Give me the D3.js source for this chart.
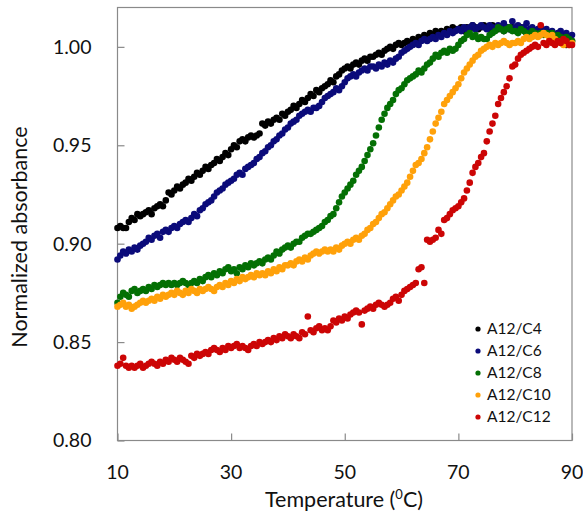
<!DOCTYPE html>
<html>
<head>
<meta charset="utf-8">
<script src="https://cdn.jsdelivr.net/npm/d3@7"></script>
<style>
  html, body { margin: 0; padding: 0; background: #fff; }
  svg { display: block; font-family: Lato, "Open Sans", sans-serif; }
</style>
</head>
<body>
<div id="chart"></div>
<script>
// temperature grid (°C), one reading every 0.5 degree
const temps = [
  10, 10.5, 11, 11.5, 12, 12.5, 13, 13.5, 14, 14.5, 15, 15.5, 16, 16.5, 17, 17.5, 18, 18.5, 19, 19.5,
  20, 20.5, 21, 21.5, 22, 22.5, 23, 23.5, 24, 24.5, 25, 25.5, 26, 26.5, 27, 27.5, 28, 28.5, 29, 29.5,
  30, 30.5, 31, 31.5, 32, 32.5, 33, 33.5, 34, 34.5, 35, 35.5, 36, 36.5, 37, 37.5, 38, 38.5, 39, 39.5,
  40, 40.5, 41, 41.5, 42, 42.5, 43, 43.5, 44, 44.5, 45, 45.5, 46, 46.5, 47, 47.5, 48, 48.5, 49, 49.5,
  50, 50.5, 51, 51.5, 52, 52.5, 53, 53.5, 54, 54.5, 55, 55.5, 56, 56.5, 57, 57.5, 58, 58.5, 59, 59.5,
  60, 60.5, 61, 61.5, 62, 62.5, 63, 63.5, 64, 64.5, 65, 65.5, 66, 66.5, 67, 67.5, 68, 68.5, 69, 69.5,
  70, 70.5, 71, 71.5, 72, 72.5, 73, 73.5, 74, 74.5, 75, 75.5, 76, 76.5, 77, 77.5, 78, 78.5, 79, 79.5,
  80, 80.5, 81, 81.5, 82, 82.5, 83, 83.5, 84, 84.5, 85, 85.5, 86, 86.5, 87, 87.5, 88, 88.5, 89, 89.5,
  90
];

const c4 = [
  0.908, 0.909, 0.908, 0.908, 0.911, 0.913, 0.912, 0.915, 0.914, 0.915,
  0.916, 0.917, 0.915, 0.918, 0.919, 0.920, 0.919, 0.922, 0.926, 0.925,
  0.927, 0.929, 0.928, 0.930, 0.931, 0.933, 0.932, 0.934, 0.936, 0.935,
  0.937, 0.939, 0.938, 0.940, 0.941, 0.943, 0.942, 0.944, 0.946, 0.945,
  0.948, 0.950, 0.949, 0.952, 0.953, 0.952, 0.954, 0.955, 0.954, 0.955,
  0.956, 0.961, 0.960, 0.962, 0.961, 0.963, 0.964, 0.963, 0.966, 0.965,
  0.967, 0.968, 0.970, 0.969, 0.971, 0.973, 0.972, 0.974, 0.976, 0.975,
  0.978, 0.977, 0.979, 0.980, 0.981, 0.983, 0.982, 0.985, 0.986, 0.988,
  0.989, 0.990, 0.989, 0.991, 0.992, 0.991, 0.993, 0.994, 0.993, 0.995,
  0.995, 0.996, 0.997, 0.996, 0.998, 0.999, 1.000, 0.999, 1.001, 1.002,
  1.001, 1.002, 1.003, 1.002, 1.004, 1.003, 1.005, 1.004, 1.006, 1.005,
  1.007, 1.006, 1.008, 1.007, 1.008, 1.007, 1.009, 1.008, 1.010, 1.009,
  1.009, 1.010, 1.008, 1.010, 1.009, 1.011, 1.010, 1.009, 1.010, 1.011,
  1.010, 1.009, 1.011, 1.010, 1.009, 1.010, 1.008, 1.010, 1.009, 1.010,
  1.009, 1.008, 1.010, 1.009, 1.007, 1.008, 1.009, 1.007, 1.008, 1.006,
  1.007, 1.008, 1.006, 1.005, 1.006, 1.004, 1.005, 1.003, 1.001, 1.002,
  1.003
];

const c6 = [
  0.892, 0.894, 0.896, 0.895, 0.897, 0.896, 0.898, 0.897, 0.899, 0.900,
  0.901, 0.903, 0.902, 0.904, 0.905, 0.903, 0.906, 0.907, 0.906, 0.908,
  0.909, 0.908, 0.910, 0.911, 0.912, 0.911, 0.913, 0.915, 0.914, 0.917,
  0.918, 0.920, 0.921, 0.922, 0.924, 0.926, 0.927, 0.928, 0.930, 0.931,
  0.932, 0.933, 0.935, 0.936, 0.935, 0.938, 0.939, 0.940, 0.941, 0.943,
  0.944, 0.946, 0.947, 0.949, 0.950, 0.952, 0.953, 0.955, 0.956, 0.958,
  0.959, 0.961, 0.962, 0.963, 0.965, 0.966, 0.967, 0.968, 0.967, 0.969,
  0.969, 0.970, 0.972, 0.974, 0.975, 0.976, 0.977, 0.979, 0.978, 0.980,
  0.982, 0.984, 0.985, 0.986, 0.985, 0.987, 0.988, 0.989, 0.988, 0.990,
  0.990, 0.989, 0.991, 0.990, 0.992, 0.991, 0.993, 0.992, 0.994, 0.995,
  0.997, 0.998, 0.999, 1.000, 1.001, 1.002, 1.001, 1.003, 1.004, 1.003,
  1.004, 1.005, 1.004, 1.006, 1.005, 1.007, 1.006, 1.008, 1.007, 1.008,
  1.009, 1.008, 1.010, 1.009, 1.010, 1.011, 1.009, 1.010, 1.011, 1.010,
  1.009, 1.011, 1.010, 1.009, 1.011, 1.010, 1.012, 1.010, 1.009, 1.013,
  1.010, 1.011, 1.009, 1.010, 1.012, 1.009, 1.010, 1.008, 1.009, 1.010,
  1.008, 1.009, 1.007, 1.008, 1.006, 1.007, 1.008, 1.006, 1.007, 1.005,
  1.006
];

const c8 = [
  0.870, 0.873, 0.875, 0.874, 0.873, 0.876, 0.877, 0.875, 0.876, 0.877,
  0.876, 0.878, 0.877, 0.879, 0.878, 0.879, 0.880, 0.879, 0.880, 0.879,
  0.880, 0.879, 0.880, 0.881, 0.880, 0.879, 0.880, 0.881, 0.880, 0.882,
  0.881, 0.883, 0.884, 0.883, 0.885, 0.884, 0.886, 0.885, 0.887, 0.888,
  0.886, 0.887, 0.885, 0.888, 0.887, 0.889, 0.888, 0.890, 0.889, 0.890,
  0.891, 0.890, 0.892, 0.893, 0.892, 0.894, 0.896, 0.895, 0.897, 0.898,
  0.899, 0.898, 0.900, 0.901, 0.901, 0.903, 0.904, 0.905, 0.905, 0.906,
  0.907, 0.908, 0.909, 0.911, 0.912, 0.914, 0.915, 0.918, 0.921, 0.924,
  0.926, 0.928, 0.930, 0.932, 0.935, 0.937, 0.939, 0.942, 0.945, 0.948,
  0.951, 0.955, 0.959, 0.963, 0.966, 0.969, 0.971, 0.973, 0.976, 0.978,
  0.979, 0.981, 0.983, 0.984, 0.985, 0.986, 0.988, 0.987, 0.989, 0.991,
  0.992, 0.994, 0.996, 0.995, 0.997, 0.998, 0.997, 0.999, 0.998, 0.999,
  1.001, 1.003, 1.004, 1.006, 1.007, 1.005, 1.006, 1.004, 1.005, 1.004,
  1.004, 1.006, 1.007, 1.008, 1.010, 1.009, 1.008, 1.009, 1.010, 1.008,
  1.008, 1.007, 1.009, 1.008, 1.007, 1.006, 1.008, 1.007, 1.006, 1.007,
  1.006, 1.007, 1.006, 1.007, 1.005, 1.006, 1.005, 1.004, 1.005, 1.004,
  1.003
];

const c10 = [
  0.868, 0.869, 0.870, 0.868, 0.869, 0.867, 0.868, 0.869, 0.870, 0.871,
  0.870, 0.871, 0.872, 0.871, 0.873, 0.872, 0.874, 0.873, 0.874, 0.875,
  0.874, 0.876, 0.875, 0.874, 0.876, 0.875, 0.877, 0.876, 0.875, 0.877,
  0.876, 0.877, 0.878, 0.877, 0.876, 0.878, 0.879, 0.878, 0.880, 0.879,
  0.881, 0.880, 0.882, 0.881, 0.883, 0.882, 0.883, 0.884, 0.883, 0.885,
  0.884, 0.885, 0.884, 0.886, 0.885, 0.887, 0.886, 0.888, 0.887, 0.889,
  0.889, 0.890, 0.889, 0.891, 0.892, 0.891, 0.893, 0.892, 0.894, 0.895,
  0.896, 0.895, 0.896, 0.897, 0.896, 0.897, 0.896, 0.898, 0.897, 0.899,
  0.900, 0.901, 0.900, 0.902, 0.903, 0.902, 0.904, 0.905, 0.907, 0.908,
  0.910, 0.911, 0.913, 0.915, 0.916, 0.918, 0.920, 0.922, 0.924, 0.925,
  0.927, 0.929, 0.931, 0.934, 0.937, 0.940, 0.941, 0.943, 0.946, 0.949,
  0.953, 0.957, 0.961, 0.964, 0.967, 0.971, 0.973, 0.975, 0.977, 0.979,
  0.981, 0.984, 0.987, 0.989, 0.991, 0.993, 0.995, 0.996, 0.998, 0.999,
  1.000, 1.001, 1.000, 1.002, 1.001, 1.002, 1.003, 1.002, 1.001, 1.002,
  1.002, 1.003, 1.002, 1.004, 1.005, 1.004, 1.005, 1.006, 1.005, 1.006,
  1.007, 1.006, 1.005, 1.006, 1.004, 1.003, 1.002, 1.001, 1.002, 1.001,
  1.002
];

const c12 = [
  0.838, 0.839, 0.842, 0.838, 0.837, 0.838, 0.837, 0.838, 0.839, 0.837,
  0.838, 0.839, 0.840, 0.839, 0.838, 0.840, 0.839, 0.841, 0.840, 0.842,
  0.841, 0.840, 0.842, 0.841, 0.840, 0.839, 0.843, 0.842, 0.844, 0.843,
  0.844, 0.845, 0.844, 0.846, 0.847, 0.846, 0.845, 0.847, 0.846, 0.848,
  0.847, 0.848, 0.849, 0.847, 0.848, 0.847, 0.846, 0.848, 0.849, 0.848,
  0.850, 0.849, 0.850, 0.851, 0.850, 0.852, 0.851, 0.853, 0.852, 0.854,
  0.853, 0.852, 0.854, 0.853, 0.852, 0.855, 0.854, 0.863, 0.856, 0.855,
  0.857, 0.858, 0.856, 0.857, 0.856, 0.858, 0.861, 0.860, 0.862, 0.861,
  0.863, 0.862, 0.864, 0.865, 0.866, 0.865, 0.859, 0.866, 0.867, 0.868,
  0.867, 0.869, 0.870, 0.869, 0.868, 0.869, 0.870, 0.872, 0.873, 0.871,
  0.874, 0.876, 0.877, 0.878, 0.879, 0.880, 0.887, 0.888, 0.880, 0.902,
  0.901, 0.902, 0.903, 0.907, 0.905, 0.912, 0.913, 0.915, 0.917, 0.918,
  0.919, 0.921, 0.923, 0.927, 0.931, 0.936, 0.939, 0.941, 0.944, 0.946,
  0.952, 0.957, 0.961, 0.965, 0.971, 0.974, 0.977, 0.980, 0.984, 0.990,
  0.991, 0.994, 0.996, 0.997, 0.998, 0.999, 1.000, 1.001, 1.000, 1.011,
  1.002, 1.001, 1.003, 1.002, 1.001, 1.003, 1.002, 1.004, 1.003, 1.001,
  1.001
];

const seriesNames = ["A12/C4", "A12/C6", "A12/C8", "A12/C10", "A12/C12"];
const seriesValues = [c4, c6, c8, c10, c12];
const seriesColors = ["#000000", "#0b0b7a", "#047004", "#ffa10a", "#cc0505"];

const xTicks = [10, 30, 50, 70, 90];
const yTicks = [0.80, 0.85, 0.90, 0.95, 1.00];

const width = 583, height = 515;
const margin = {top: 7.5, right: 11, bottom: 74.5, left: 117.5};

const x = d3.scaleLinear()
  .domain([10, 90])
  .range([margin.left, width - margin.right]);
const y = d3.scaleLinear()
  .domain([0.80, 1.02])
  .range([height - margin.bottom, margin.top]);

const svg = d3.select("#chart").append("svg")
  .attr("width", width)
  .attr("height", height)
  .attr("viewBox", [0, 0, width, height]);

// plot frame
svg.append("rect")
  .attr("x", x(10))
  .attr("y", y(1.02))
  .attr("width", x(90) - x(10))
  .attr("height", y(0.80) - y(1.02))
  .attr("fill", "none")
  .attr("stroke", "#8a8a8a")
  .attr("stroke-width", 1.2);

// axes with inside ticks
const xAxis = g => g
  .attr("transform", `translate(0,${y(0.80)})`)
  .call(d3.axisBottom(x).tickValues(xTicks).tickSizeInner(-7).tickSizeOuter(0))
  .call(g => g.select(".domain").remove())
  .call(g => g.selectAll(".tick line").attr("stroke", "#8a8a8a").attr("stroke-width", 1.2))
  .call(g => g.selectAll(".tick text").remove());

const yAxis = g => g
  .attr("transform", `translate(${x(10)},0)`)
  .call(d3.axisLeft(y).tickValues(yTicks).tickSizeInner(-7).tickSizeOuter(0))
  .call(g => g.select(".domain").remove())
  .call(g => g.selectAll(".tick line").attr("stroke", "#8a8a8a").attr("stroke-width", 1.2))
  .call(g => g.selectAll(".tick text").remove());

svg.append("g").call(xAxis);
svg.append("g").call(yAxis);

// tick labels
svg.append("g")
  .selectAll("text")
  .data(xTicks)
  .join("text")
  .attr("x", d => x(d))
  .attr("y", y(0.80) + 38.5)
  .attr("text-anchor", "middle")
  .attr("font-size", 19.5)
  .attr("fill", "#111")
  .text(d => d);

svg.append("g")
  .selectAll("text")
  .data(yTicks)
  .join("text")
  .attr("x", x(10) - 26)
  .attr("y", d => y(d))
  .attr("dy", "0.35em")
  .attr("text-anchor", "end")
  .attr("font-size", 19.5)
  .attr("fill", "#111")
  .text(d => d.toFixed(2));

// axis titles
const xTitle = svg.append("text")
  .attr("x", 344)
  .attr("y", 507)
  .attr("text-anchor", "middle")
  .attr("font-size", 21.5)
  .attr("fill", "#111");
xTitle.append("tspan").text("Temperature (");
xTitle.append("tspan").attr("font-size", 13).attr("dy", -8).text("0");
xTitle.append("tspan").attr("dy", 8).text("C)");

svg.append("text")
  .attr("transform", `translate(27,237) rotate(-90)`)
  .attr("text-anchor", "middle")
  .attr("font-size", 21.5)
  .attr("fill", "#111")
  .text("Normalized absorbance");

// points, drawn in series order so C12 sits on top
seriesValues.forEach((vals, i) => {
  svg.append("g")
    .attr("fill", seriesColors[i])
    .selectAll("circle")
    .data(vals)
    .join("circle")
    .attr("cx", (d, j) => x(temps[j]))
    .attr("cy", d => y(d))
    .attr("r", 3.3);
});

// legend
const legend = svg.append("g")
  .selectAll("g")
  .data(seriesNames)
  .join("g")
  .attr("transform", (d, i) => `translate(478,${329 + i * 22})`);

legend.append("circle")
  .attr("r", 2.6)
  .attr("fill", (d, i) => seriesColors[i]);

legend.append("text")
  .attr("x", 9)
  .attr("dy", "0.35em")
  .attr("font-size", 15.5)
  .attr("fill", "#111")
  .text(d => d);
</script>
</body>
</html>
